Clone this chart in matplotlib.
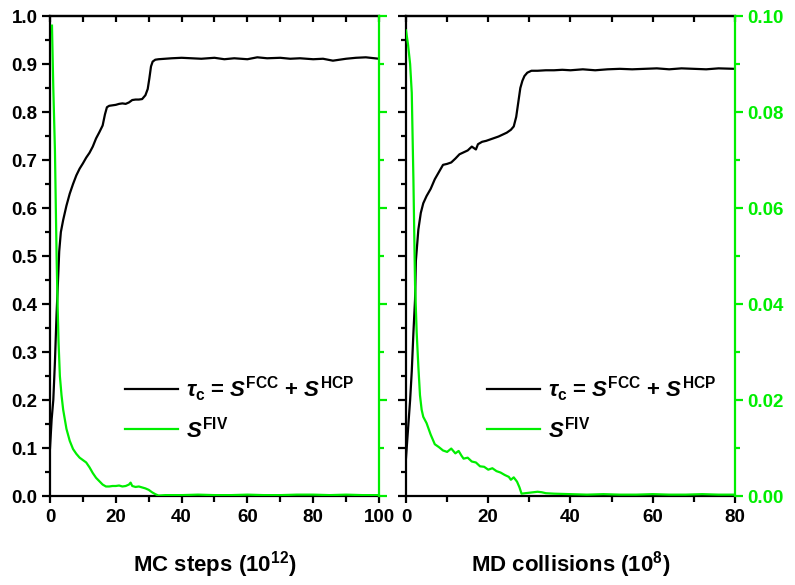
import matplotlib.pyplot as plt
from matplotlib.ticker import MultipleLocator

plt.rcParams['font.family'] = ['Liberation Sans', 'DejaVu Sans']
plt.rcParams['font.weight'] = 'bold'
plt.rcParams['mathtext.fontset'] = 'custom'
plt.rcParams['mathtext.rm'] = 'Liberation Sans:bold'
plt.rcParams['mathtext.bf'] = 'Liberation Sans:bold'
plt.rcParams['mathtext.it'] = 'Liberation Sans:italic:bold'

GREEN = '#00ee00'

# 左图：MC steps
mc_tau_x = [0, 0.5, 1, 1.5, 2, 2.5, 2.8, 3.3, 4, 5, 6, 7, 8, 9, 10, 11, 12, 13, 14, 15,
            16, 16.7, 17.3, 18, 19, 20, 21, 22, 23, 24, 25, 26, 27, 28, 29, 29.7, 30.2,
            30.7, 31.2, 32, 33, 35, 37, 40, 43, 46, 50, 53, 56, 60, 63, 66, 70, 73, 76,
            80, 83, 86, 90, 93, 96, 100]
mc_tau_y = [0.10, 0.16, 0.20, 0.28, 0.38, 0.46, 0.51, 0.55, 0.575, 0.605, 0.63, 0.65,
            0.668, 0.682, 0.693, 0.705, 0.715, 0.728, 0.745, 0.758, 0.772, 0.795, 0.81,
            0.813, 0.814, 0.815, 0.817, 0.818, 0.817, 0.82, 0.825, 0.826, 0.826, 0.827,
            0.835, 0.848, 0.87, 0.895, 0.905, 0.909, 0.910, 0.911, 0.912, 0.913, 0.912,
            0.911, 0.913, 0.910, 0.912, 0.910, 0.914, 0.912, 0.913, 0.911, 0.912, 0.910,
            0.911, 0.907, 0.911, 0.913, 0.914, 0.911]
mc_fiv_x = [0.6, 1, 1.5, 2, 2.3, 2.6, 3, 3.5, 4, 5, 6, 7, 8, 9, 10, 11, 12, 13, 14, 15,
            16, 17, 18, 19, 20, 21, 22, 23, 24, 24.5, 25, 26, 27, 28, 29, 30, 31, 32, 33,
            35, 40, 45, 50, 55, 60, 65, 70, 75, 80, 85, 90, 95, 100]
mc_fiv_y = [0.098, 0.085, 0.072, 0.050, 0.040, 0.032, 0.025, 0.021, 0.018, 0.014, 0.0115,
            0.0098, 0.0088, 0.0080, 0.0075, 0.0070, 0.0060, 0.0048, 0.0038, 0.0031,
            0.0024, 0.0020, 0.0020, 0.0021, 0.0021, 0.0022, 0.0020, 0.0021, 0.0024,
            0.0028, 0.0021, 0.0019, 0.0020, 0.0018, 0.0016, 0.0013, 0.0008, 0.0004,
            0.0001, 0.0002, 0.0002, 0.0003, 0.0002, 0.0002, 0.0003, 0.0002, 0.0002,
            0.0003, 0.0003, 0.0002, 0.0003, 0.0002, 0.0002]

# 右图：MD collisions
md_tau_x = [0, 0.5, 1, 1.4, 1.8, 2.2, 2.4, 3, 3.6, 4.2, 5, 6, 7, 8, 9, 10, 11, 12, 13, 14,
            15, 16, 17, 17.5, 18.5, 19.5, 20.5, 21.5, 22.5, 23.5, 24.5, 25.5, 26.2, 26.8,
            27.3, 27.8, 28.3, 28.8, 29.5, 30.5, 32, 34, 36, 38, 40, 43, 46, 49, 52, 55,
            58, 61, 64, 67, 70, 73, 76, 80]
md_tau_y = [0.08, 0.14, 0.20, 0.26, 0.34, 0.41, 0.49, 0.555, 0.59, 0.61, 0.625, 0.64,
            0.66, 0.675, 0.69, 0.692, 0.695, 0.703, 0.712, 0.716, 0.72, 0.728, 0.722,
            0.733, 0.738, 0.740, 0.743, 0.746, 0.749, 0.753, 0.757, 0.763, 0.770, 0.79,
            0.82, 0.85, 0.865, 0.875, 0.882, 0.886, 0.886, 0.887, 0.887, 0.888, 0.887,
            0.889, 0.887, 0.889, 0.890, 0.889, 0.890, 0.891, 0.889, 0.891, 0.890, 0.889,
            0.891, 0.890]
md_fiv_x = [0, 0.5, 1, 1.4, 1.8, 2.2, 2.6, 3, 3.4, 3.8, 4.2, 5, 5.5, 6, 7, 8, 9, 10, 11,
            12, 12.8, 13.5, 14, 15, 16, 17, 18, 19, 20, 21, 22, 23, 24, 25, 25.5, 26.2,
            27, 27.6, 28.1, 29, 30, 31, 32, 33, 34, 36, 40, 44, 48, 52, 56, 60, 64, 68,
            72, 76, 80]
md_fiv_y = [0.097, 0.094, 0.090, 0.084, 0.066, 0.044, 0.034, 0.027, 0.021, 0.018, 0.0165,
            0.0152, 0.0140, 0.0128, 0.0108, 0.0102, 0.0095, 0.0092, 0.0099, 0.0089,
            0.0094, 0.0084, 0.0078, 0.0080, 0.0072, 0.0070, 0.0062, 0.0061, 0.0055,
            0.0058, 0.0052, 0.0049, 0.0044, 0.0040, 0.0034, 0.0039, 0.0030, 0.0018,
            0.0005, 0.0006, 0.0007, 0.0008, 0.0009, 0.0008, 0.0006, 0.0005, 0.0004,
            0.0003, 0.0004, 0.0003, 0.0003, 0.0004, 0.0003, 0.0003, 0.0004, 0.0003,
            0.0003]

tau_label = r'$\tau_{\mathrm{c}}$ = $S^{\mathrm{FCC}}$ + $S^{\mathrm{HCP}}$'
fiv_label = r'$S^{\mathrm{FIV}}$'

fig = plt.figure(figsize=(7.95, 5.85), dpi=100)
ax1 = fig.add_axes([0.0629, 0.152, 0.4138, 0.8206])
ax2 = fig.add_axes([0.5107, 0.152, 0.4138, 0.8206])

panels = [
    (ax1, mc_tau_x, mc_tau_y, mc_fiv_x, mc_fiv_y, 100, 'MC steps (10$^{12}$)', True, 0.228),
    (ax2, md_tau_x, md_tau_y, md_fiv_x, md_fiv_y, 80, 'MD collisions (10$^{8}$)', False, 0.246),
]

for ax, tx, ty, fx, fy, xmax, xlabel, left_labels, leg_x in panels:
    axg = ax.twinx()

    l1, = ax.plot(tx, ty, color='black', lw=1.6, label=tau_label)
    l2, = axg.plot(fx, fy, color=GREEN, lw=1.6, label=fiv_label)

    ax.set_xlim(0, xmax)
    ax.set_ylim(0, 1.0)
    axg.set_ylim(0, 0.1)

    ax.xaxis.set_major_locator(MultipleLocator(20))
    ax.xaxis.set_minor_locator(MultipleLocator(10))
    ax.yaxis.set_major_locator(MultipleLocator(0.1))
    ax.yaxis.set_minor_locator(MultipleLocator(0.05))
    axg.yaxis.set_major_locator(MultipleLocator(0.02))
    axg.yaxis.set_minor_locator(MultipleLocator(0.01))

    for sp in ax.spines.values():
        sp.set_linewidth(1.6)
    ax.spines['right'].set_visible(False)
    for name, sp in axg.spines.items():
        sp.set_visible(name == 'right')
    axg.spines['right'].set_color(GREEN)
    axg.spines['right'].set_linewidth(1.6)

    ax.tick_params(axis='x', which='both', direction='out', top=False, width=1.6, labelsize=13.5, pad=4)
    ax.tick_params(axis='x', which='major', length=5)
    ax.tick_params(axis='x', which='minor', length=4)
    ax.tick_params(axis='y', which='both', direction='out', width=1.6, labelsize=13.5, labelleft=left_labels, pad=3)
    ax.tick_params(axis='y', which='major', length=6)
    ax.tick_params(axis='y', which='minor', length=3.5)
    axg.tick_params(axis='y', which='both', direction='out', width=1.6, color=GREEN,
                    labelcolor=GREEN, labelsize=13.5, labelright=not left_labels, pad=3)
    axg.tick_params(axis='y', which='major', length=6)
    axg.tick_params(axis='y', which='minor', length=3.5)

    # 顶部刻度（向内）
    top = ax.secondary_xaxis('top')
    top.xaxis.set_major_locator(MultipleLocator(10))
    top.tick_params(direction='in', length=4, width=1.6, labeltop=False)
    top.spines['top'].set_linewidth(1.6)

    if not left_labels:
        axg.set_yticklabels([f'{v:.2f}' for v in axg.get_yticks()])

    ax.set_xlabel(xlabel, fontsize=16, fontweight='bold', labelpad=17)

    ax.legend([l1, l2], [tau_label, fiv_label], loc='center left',
              bbox_to_anchor=(leg_x, 0.183), frameon=False, fontsize=16,
              handlelength=2.4, handletextpad=0.35, borderpad=0, borderaxespad=0,
              labelspacing=0.55)

fig.savefig('out.png', dpi=100)
